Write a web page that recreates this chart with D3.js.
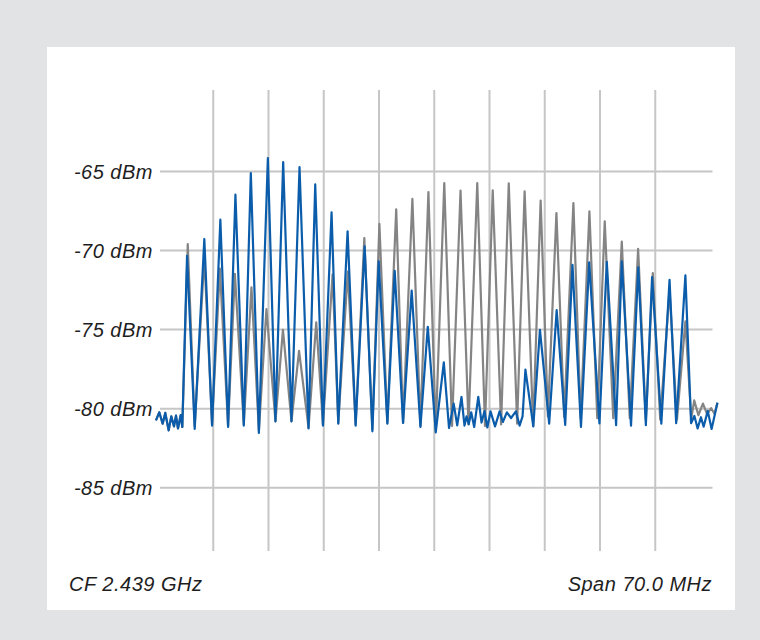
<html>
<head>
    <meta http-equiv="content-type" content="text/html; charset=UTF8">
    <script type="text/javascript" src="https://cdn.jsdelivr.net/npm/d3@7"></script>
    <style>
        body { margin: 0; background: #e2e3e5; }
        svg text { font-family: "Liberation Sans", Arial, sans-serif; font-style: italic; fill: #1e1e1e; letter-spacing: 0.5px; }
    </style>
</head>
<body>
<div id="chart"></div>

<script>
    var noiseFreq = [-35.26, -34.84, -34.41, -34.08, -33.65, -33.32, -32.97, -32.72, -32.47, -32.12, -31.92];
    var noiseLevel = [-80.74, -80.23, -80.95, -80.27, -81.37, -80.49, -81.12, -80.44, -81.25, -80.40, -81.16];

    var blueFreq = noiseFreq.concat([
        -31.32, -30.35, -29.13, -28.15, -27.10, -26.12, -25.19, -24.13, -23.24, -22.22,
        -21.08, -20.12, -19.14, -18.09, -17.07, -15.93, -15.08, -14.10, -13.01, -12.16,
        -10.98, -9.96, -8.82, -7.84, -7.04, -5.94, -5.01, -3.95, -2.86, -1.75,
        -0.82, 0.19, 1.21, 1.87, 2.46, 2.91, 3.45, 3.83, 4.09, 4.37,
        4.68, 5.06, 5.58, 5.99, 6.37, 6.73, 7.13, 7.70, 8.28, 8.69,
        9.20, 9.73, 10.34, 10.81, 11.19, 11.55, 12.55, 13.39, 14.56, 15.51,
        16.59, 17.51, 18.59, 19.63, 20.93, 21.86, 23.04, 23.76, 24.93, 25.85,
        26.81, 27.60, 28.77, 29.81, 30.65, 31.82, 32.54, 32.96, 33.37, 33.79,
        34.13, 34.65, 35.14, 35.88]);
    var blueLevel = noiseLevel.concat([
        -70.33, -81.28, -69.27, -81.07, -68.05, -81.16, -66.47, -81.07, -65.10, -81.54,
        -64.15, -80.80, -64.41, -80.80, -64.72, -81.25, -65.82, -81.07, -67.59, -80.95,
        -68.79, -81.07, -69.74, -81.43, -70.69, -80.95, -71.28, -80.90, -72.54, -81.16,
        -74.82, -81.50, -77.07, -81.22, -79.68, -81.06, -79.26, -81.07, -80.49, -80.98,
        -80.23, -81.16, -79.26, -80.88, -80.15, -81.19, -80.17, -81.12, -80.17, -80.84,
        -80.23, -80.59, -80.17, -81.07, -80.49, -77.53, -81.12, -75.01, -80.95, -73.76,
        -81.03, -70.91, -81.16, -70.75, -80.93, -70.71, -81.04, -70.68, -81.07, -71.06,
        -81.04, -71.68, -80.95, -71.85, -80.92, -71.57, -80.92, -80.46, -81.25, -80.54,
        -81.14, -80.14, -81.28, -79.62]);

    var greyFreq = noiseFreq.concat([
        -31.23, -30.35, -29.13, -28.15, -27.16, -26.12, -25.26, -24.13, -23.16, -22.22,
        -21.26, -20.12, -19.17, -18.09, -17.13, -15.93, -14.95, -14.10, -12.88, -12.16,
        -10.95, -9.96, -8.86, -7.84, -6.95, -5.94, -4.82, -3.95, -2.77, -1.75,
        -0.74, 0.19, 1.27, 2.25, 3.33, 4.34, 5.45, 6.43, 7.41, 8.47,
        9.44, 10.50, 11.45, 12.53, 13.48, 14.40, 15.48, 16.46, 17.63, 18.55,
        19.66, 20.65, 21.60, 22.68, 23.76, 24.77, 25.83, 26.81, 27.69, 28.63,
        29.81, 30.75, 31.82, 32.56, 32.94, 33.47, 34.04, 34.57, 35.09, 35.50,
        35.88]);
    var greyLevel = noiseLevel.concat([
        -69.59, -81.10, -70.40, -81.00, -71.15, -81.10, -71.47, -81.00, -72.33, -81.40,
        -73.70, -80.80, -75.01, -80.80, -76.35, -81.20, -74.54, -81.00, -71.51, -80.90,
        -71.34, -81.00, -69.21, -81.30, -68.32, -80.90, -67.40, -80.90, -66.74, -81.10,
        -66.30, -81.40, -65.73, -81.10, -66.21, -81.00, -65.73, -81.10, -66.20, -81.00,
        -65.75, -80.95, -66.26, -81.10, -66.84, -80.49, -67.63, -80.53, -67.00, -80.60,
        -67.53, -80.60, -68.16, -80.60, -69.44, -80.60, -69.90, -80.70, -71.43, -80.70,
        -72.50, -80.70, -74.48, -80.65, -79.48, -80.41, -79.68, -80.35, -79.97, -80.32,
        -79.62]);

    var levelTicks = [-65, -70, -75, -80, -85];
    var freqTicks = [-28, -21, -14, -7, 0, 7, 14, 21, 28];
    var centreLabel = "CF 2.439 GHz";
    var spanLabel = "Span 70.0 MHz";

    // view settings
    var width = 760;
    var height = 640;

    var x = d3.scaleLinear().domain([-35, 35]).range([158, 710.5]);
    var y = d3.scaleLinear().domain([-59.85, -89]).range([90, 551]);

    var svg = d3.select("#chart")
        .append("svg")
        .attr("width", width)
        .attr("height", height);

    // white panel
    svg.append("rect")
        .attr("x", 47)
        .attr("y", 47)
        .attr("width", 688)
        .attr("height", 563)
        .attr("fill", "white");

    // graticule
    svg.selectAll("line.h")
        .data(levelTicks)
        .enter()
        .append("line")
        .attr("class", "h")
        .attr("x1", x(-35) + 2)
        .attr("x2", x(35) + 2)
        .attr("y1", function(d) { return y(d); })
        .attr("y2", function(d) { return y(d); })
        .attr("stroke", "#c6c6c6")
        .attr("stroke-width", 2);

    svg.selectAll("line.v")
        .data(freqTicks)
        .enter()
        .append("line")
        .attr("class", "v")
        .attr("x1", function(d) { return x(d); })
        .attr("x2", function(d) { return x(d); })
        .attr("y1", y.range()[0])
        .attr("y2", y.range()[1])
        .attr("stroke", "#c6c6c6")
        .attr("stroke-width", 2);

    svg.selectAll("text.tick")
        .data(levelTicks)
        .enter()
        .append("text")
        .attr("class", "tick")
        .attr("x", 153)
        .attr("y", function(d) { return y(d); })
        .attr("dy", "0.36em")
        .attr("text-anchor", "end")
        .attr("font-size", "20px")
        .text(function(d) { return d + " dBm"; });

    svg.append("text")
        .attr("x", 69)
        .attr("y", 591)
        .attr("font-size", "20px")
        .text(centreLabel);

    svg.append("text")
        .attr("x", 712)
        .attr("y", 591)
        .attr("text-anchor", "end")
        .attr("font-size", "20px")
        .text(spanLabel);

    // traces
    var line = d3.line()
        .x(function(d) { return x(d[0]); })
        .y(function(d) { return y(d[1]); });

    var grey = d3.zip(greyFreq, greyLevel);
    var blue = d3.zip(blueFreq, blueLevel);

    svg.append("path")
        .datum(grey)
        .attr("d", line)
        .attr("fill", "none")
        .attr("stroke", "#848484")
        .attr("stroke-width", 2.2)
        .attr("stroke-linejoin", "round");

    svg.append("path")
        .datum(blue)
        .attr("d", line)
        .attr("fill", "none")
        .attr("stroke", "#0b5dab")
        .attr("stroke-width", 2.2)
        .attr("stroke-linejoin", "round");
</script>
</body>
</html>
